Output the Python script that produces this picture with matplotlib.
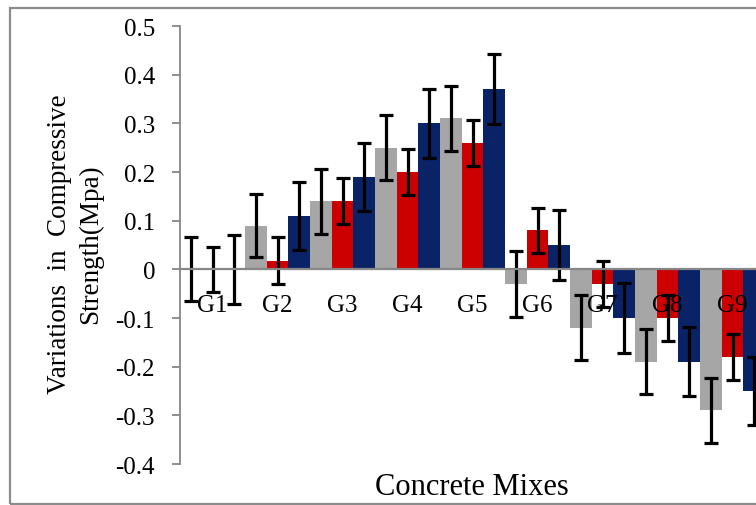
import matplotlib
matplotlib.use("Agg")
import matplotlib.pyplot as plt
import numpy as np
from matplotlib.patches import Rectangle

plt.rcParams["font.family"] = ["Liberation Serif", "DejaVu Serif"]

# ── Data ──────────────────────────────────────────────────────────────────────

MIXES = ["G1", "G2", "G3", "G4", "G5", "G6", "G7", "G8", "G9"]

GRAY_VALS = [0.0, 0.09, 0.14, 0.25, 0.31, -0.03, -0.12, -0.19, -0.29]
RED_VALS  = [0.0, 0.018, 0.14, 0.20, 0.26, 0.08, -0.03, -0.10, -0.18]
BLUE_VALS = [0.0, 0.11, 0.19, 0.30, 0.37, 0.05, -0.10, -0.19, -0.25]

GRAY_ERR = [0.066, 0.065, 0.067, 0.067, 0.067, 0.067, 0.067, 0.067, 0.067]
RED_ERR  = [0.046, 0.048, 0.047, 0.048, 0.047, 0.047, 0.047, 0.047, 0.047]
BLUE_ERR = [0.071, 0.070, 0.070, 0.071, 0.072, 0.071, 0.071, 0.071, 0.070]

YTICKS = [0.5, 0.4, 0.3, 0.2, 0.1, 0.0, -0.1, -0.2, -0.3, -0.4]
YTICK_LABELS = ["0.5", "0.4", "0.3", "0.2", "0.1", "0", "-0.1", "-0.2", "-0.3", "-0.4"]

# ── Style ─────────────────────────────────────────────────────────────────────

COLORS = ["#A6A6A6", "#CC0000", "#0A2266"]
AXIS_GRAY = "#868686"
BAR_W = 1 / 3

# ── Plot ──────────────────────────────────────────────────────────────────────

fig = plt.figure(figsize=(7.56, 5.06), dpi=100)

# outer chart border (right side cropped off in the original)
fig.patches.append(Rectangle(
    (10 / 756, 1 / 506), 1.0, 496 / 506, transform=fig.transFigure,
    fill=False, edgecolor="#8C8C8C", linewidth=1.6, clip_on=False,
))

# axes extends past the right edge, as in the cropped source image
ax = fig.add_axes([180 / 756, 1 - 465 / 506, 585 / 756, 438 / 506])

x = np.arange(len(MIXES))
series = [(GRAY_VALS, GRAY_ERR), (RED_VALS, RED_ERR), (BLUE_VALS, BLUE_ERR)]
for k, ((vals, errs), color) in enumerate(zip(series, COLORS)):
    xpos = x + (k - 1) * BAR_W
    ax.bar(xpos, vals, width=BAR_W, color=color, linewidth=0, zorder=1)
    ax.errorbar(
        xpos, vals, yerr=errs, fmt="none", ecolor="black",
        elinewidth=2.3, capsize=5.3, capthick=2.3, zorder=2,
    )

for xi, name in zip(x, MIXES):
    ax.text(xi, -0.086, name, ha="center", va="baseline", fontsize=18, zorder=4)

ax.set_xlim(-0.5, len(MIXES) - 0.5)
ax.set_ylim(-0.4, 0.5)
ax.set_yticks(YTICKS)
ax.set_yticklabels(YTICK_LABELS, fontsize=18)
ax.set_xticks([])

ax.spines["top"].set_visible(False)
ax.spines["right"].set_visible(False)
ax.spines["bottom"].set_position(("data", 0))
ax.spines["bottom"].set_color(AXIS_GRAY)
ax.spines["bottom"].set_linewidth(1.6)
ax.spines["bottom"].set_zorder(3)
ax.spines["left"].set_color(AXIS_GRAY)
ax.spines["left"].set_linewidth(1.3)
ax.tick_params(axis="y", direction="out", length=6, width=1.3,
               color=AXIS_GRAY, pad=12)
ax.patch.set_visible(False)

fig.text(75 / 756, 1 - 244 / 506, "Variations  in  Compressive\nStrength(Mpa)",
         rotation=90, ha="center", va="center", multialignment="center",
         fontsize=19.5, linespacing=1.3)
fig.text(472 / 756, 1 - 495 / 506, "Concrete Mixes",
         ha="center", va="baseline", fontsize=22)

fig.savefig("out.png", dpi=100)
plt.close(fig)
